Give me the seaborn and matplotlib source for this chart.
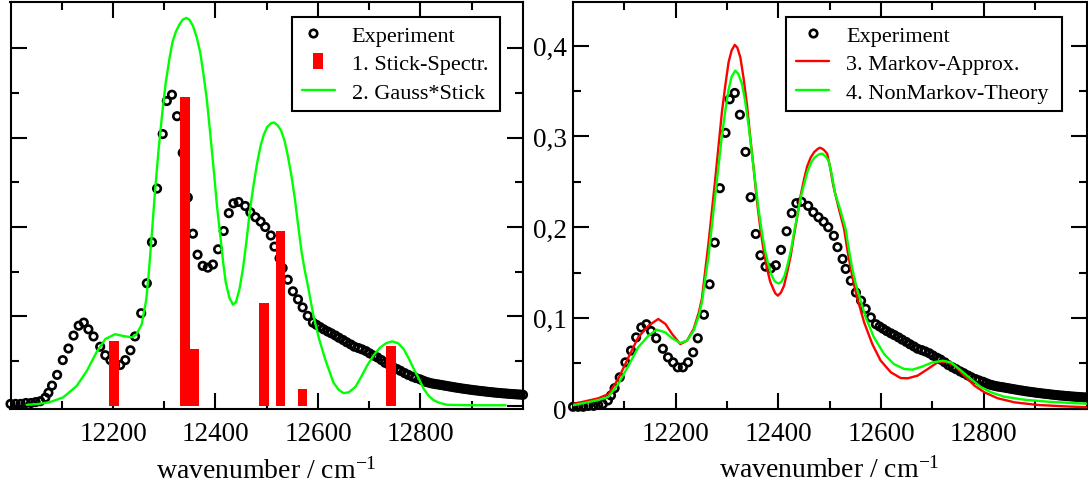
import matplotlib
matplotlib.use("Agg")
import matplotlib.pyplot as plt
import seaborn as sns
from matplotlib.lines import Line2D
from matplotlib.ticker import FixedLocator, FixedFormatter, NullFormatter
from matplotlib.legend_handler import HandlerLine2D

# ---------------- data ----------------
# measured absorption spectrum (wavenumber in cm^-1, absorbance)
exp_wn = [12000, 12010, 12020, 12030, 12040, 12049, 12058, 12068, 12074, 12081,
          12091, 12102, 12113, 12123, 12133, 12143, 12152, 12162, 12175, 12185,
          12195, 12204, 12214, 12224, 12234, 12243, 12255, 12266, 12276, 12286,
          12297, 12305, 12315, 12325, 12336, 12346, 12356, 12365, 12375, 12385,
          12395, 12405, 12416, 12426, 12435, 12445, 12458, 12468, 12478, 12488,
          12497, 12508, 12515, 12525, 12531, 12541, 12551, 12561, 12570, 12580,
          12590, 12597, 12604, 12611, 12619, 12626, 12634, 12641, 12649, 12656,
          12664, 12671, 12679, 12686, 12694, 12701, 12709, 12716, 12724, 12731,
          12739, 12746, 12754, 12761, 12769, 12776, 12784, 12791, 12799, 12805,
          12810, 12815, 12820, 12825, 12830, 12835, 12840, 12845, 12850, 12855,
          12860, 12865, 12870, 12875, 12880, 12885, 12890, 12895, 12900, 12905,
          12910, 12915, 12920, 12925, 12930, 12935, 12940, 12945, 12950, 12955,
          12960, 12965, 12970, 12975, 12980, 12985, 12990, 12995, 13000]
exp_abs = [0.002, 0.002, 0.002, 0.003, 0.003, 0.004, 0.005, 0.009, 0.0145, 0.0225,
           0.0345, 0.051, 0.064, 0.0785, 0.0895, 0.093, 0.0855, 0.0775, 0.066, 0.0565,
           0.051, 0.0455, 0.0455, 0.051, 0.062, 0.0775, 0.1035, 0.137, 0.183, 0.243,
           0.304, 0.341, 0.348, 0.324, 0.283, 0.233, 0.1925, 0.169, 0.1565, 0.1545,
           0.158, 0.175, 0.1955, 0.2155, 0.2265, 0.228, 0.2235, 0.2165, 0.211, 0.206,
           0.200, 0.1905, 0.178, 0.165, 0.154, 0.141, 0.128, 0.119, 0.110, 0.1005,
           0.093, 0.0905, 0.088, 0.0855, 0.083, 0.081, 0.0785, 0.076, 0.0735, 0.071,
           0.0685, 0.066, 0.0645, 0.063, 0.061, 0.0585, 0.056, 0.054, 0.051, 0.048,
           0.0455, 0.0435, 0.041, 0.039, 0.0365, 0.0345, 0.0325, 0.031, 0.0295, 0.028,
           0.0268, 0.026, 0.0252, 0.0246, 0.0241, 0.0237, 0.0232, 0.0227, 0.0222, 0.0217,
           0.0212, 0.0207, 0.0202, 0.0198, 0.0193, 0.0189, 0.0185, 0.0181, 0.0177, 0.0173,
           0.017, 0.0166, 0.0163, 0.016, 0.0156, 0.0153, 0.015, 0.0147, 0.0144, 0.0142,
           0.0139, 0.0137, 0.0134, 0.0132, 0.013, 0.0128, 0.0126, 0.0124, 0.0122]

# 1. stick spectrum
stick_wn = [12202, 12340, 12359, 12494, 12527, 12570, 12742]
stick_int = [0.0728, 0.345, 0.0634, 0.1146, 0.196, 0.0187, 0.067]

# 2. Gaussian-broadened stick spectrum
gauss_wn = [12032, 12055, 12077, 12103, 12129, 12149, 12168, 12185, 12204, 12220,
            12237, 12246, 12256, 12265, 12270, 12276, 12282, 12289, 12296, 12303,
            12310, 12316, 12323, 12330, 12336, 12343, 12349, 12356, 12363, 12370,
            12376, 12383, 12390, 12397, 12403, 12410, 12415, 12420, 12427, 12434,
            12440, 12447, 12454, 12461, 12467, 12474, 12481, 12488, 12494, 12501,
            12508, 12514, 12521, 12528, 12535, 12541, 12548, 12555, 12561, 12568,
            12574, 12580, 12591, 12602, 12614, 12630, 12640, 12650, 12660, 12673,
            12684, 12696, 12708, 12721, 12733, 12745, 12756, 12767, 12777, 12787,
            12797, 12806, 12816, 12826, 12838, 12852, 12900, 12966]
gauss_int = [0.001, 0.002, 0.004, 0.0094, 0.022, 0.039, 0.060, 0.0746, 0.080, 0.078,
             0.0765, 0.080, 0.091, 0.119, 0.150, 0.194, 0.240, 0.287, 0.327, 0.362,
             0.388, 0.407, 0.419, 0.427, 0.432, 0.434, 0.432, 0.425, 0.413, 0.396,
             0.373, 0.343, 0.303, 0.261, 0.223, 0.187, 0.160, 0.138, 0.121, 0.113,
             0.116, 0.131, 0.155, 0.187, 0.218, 0.246, 0.271, 0.291, 0.303, 0.312,
             0.316, 0.317, 0.314, 0.308, 0.296, 0.280, 0.258, 0.231, 0.203, 0.172,
             0.152, 0.135, 0.101, 0.075, 0.052, 0.026, 0.018, 0.014, 0.015, 0.021,
             0.032, 0.045, 0.056, 0.065, 0.070, 0.072, 0.070, 0.0635, 0.053, 0.041,
             0.030, 0.019, 0.011, 0.006, 0.003, 0.001, 0.0005, 0.0005]

# 3. Markov approximation
markov_wn = [12000, 12049, 12069, 12088, 12108, 12127, 12147, 12166, 12180, 12193,
             12209, 12222, 12235, 12245, 12251, 12264, 12277, 12290, 12297, 12303,
             12309, 12315, 12320, 12326, 12332, 12339, 12345, 12352, 12358, 12365,
             12371, 12378, 12384, 12390, 12394, 12399, 12405, 12411, 12417, 12424,
             12430, 12437, 12443, 12450, 12456, 12463, 12470, 12476, 12480, 12484,
             12489, 12495, 12501, 12507, 12517, 12528, 12534, 12541, 12547, 12554,
             12567, 12583, 12599, 12619, 12638, 12652, 12671, 12691, 12710, 12726,
             12743, 12762, 12782, 12801, 12827, 12860, 12905, 12957, 13000]
markov_int = [0.005, 0.0113, 0.016, 0.0326, 0.0565, 0.0786, 0.0914, 0.0988, 0.0933, 0.0822,
              0.0712, 0.0749, 0.0878, 0.106, 0.121, 0.183, 0.253, 0.327, 0.358, 0.382,
              0.395, 0.401, 0.398, 0.387, 0.365, 0.334, 0.300, 0.264, 0.230, 0.198,
              0.175, 0.154, 0.140, 0.132, 0.127, 0.1245, 0.128, 0.1355, 0.150, 0.1686,
              0.190, 0.2127, 0.234, 0.253, 0.267, 0.277, 0.283, 0.286, 0.2875, 0.287,
              0.285, 0.281, 0.265, 0.2456, 0.222, 0.198, 0.176, 0.154, 0.137, 0.121,
              0.095, 0.071, 0.053, 0.040, 0.0337, 0.0334, 0.0363, 0.0437, 0.051, 0.0517,
              0.0473, 0.0363, 0.0252, 0.018, 0.0114, 0.0069, 0.004, 0.0025, 0.0015]

# 4. non-Markovian theory
nonmarkov_wn = [12000, 12049, 12069, 12088, 12108, 12127, 12147, 12163, 12180, 12193,
                12209, 12222, 12235, 12245, 12251, 12264, 12277, 12290, 12297, 12303,
                12309, 12316, 12322, 12329, 12335, 12342, 12348, 12355, 12361, 12368,
                12374, 12381, 12386, 12392, 12396, 12401, 12406, 12412, 12418, 12425,
                12431, 12438, 12444, 12451, 12457, 12464, 12470, 12477, 12481, 12486,
                12492, 12498, 12504, 12510, 12520, 12531, 12537, 12544, 12550, 12557,
                12570, 12586, 12606, 12625, 12645, 12661, 12681, 12700, 12720, 12736,
                12756, 12775, 12795, 12814, 12840, 12879, 12925, 12970, 13000]
nonmarkov_int = [0.0037, 0.0093, 0.013, 0.027, 0.0474, 0.0676, 0.0804, 0.087, 0.084, 0.0775,
                 0.0723, 0.0749, 0.086, 0.1024, 0.117, 0.1686, 0.235, 0.301, 0.330, 0.352,
                 0.366, 0.3726, 0.369, 0.358, 0.340, 0.312, 0.283, 0.2495, 0.221, 0.194,
                 0.174, 0.1576, 0.148, 0.141, 0.139, 0.138, 0.140, 0.1465, 0.159, 0.176,
                 0.196, 0.2164, 0.234, 0.2495, 0.262, 0.2716, 0.2765, 0.2796, 0.2808, 0.281,
                 0.278, 0.273, 0.258, 0.238, 0.220, 0.198, 0.176, 0.154, 0.139, 0.1245,
                 0.1007, 0.0786, 0.060, 0.049, 0.0437, 0.0429, 0.0466, 0.051, 0.0528, 0.051,
                 0.0418, 0.0326, 0.0235, 0.018, 0.0131, 0.0098, 0.0076, 0.0062, 0.0054]

x_major = [12200, 12400, 12600, 12800]
x_minor = [12100, 12300, 12500, 12700, 12900]
x_labels = ["12200", "12400", "12600", "12800"]
y_major = [0.0, 0.1, 0.2, 0.3, 0.4]
y_minor = [0.05, 0.15, 0.25, 0.35]
y_labels = ["0", "0,1", "0,2", "0,3", "0,4"]

legend_left = ["Experiment", "1. Stick-Spectr.", "2. Gauss*Stick"]
legend_right = ["Experiment", "3. Markov-Approx.", "4. NonMarkov-Theory"]

RED = "#ff0000"
GREEN = "#00ff00"

# ---------------- style ----------------
sns.set_theme(style="ticks")
plt.rcParams["font.family"] = ["Liberation Serif", "DejaVu Serif"]
plt.rcParams["mathtext.fontset"] = "custom"
plt.rcParams["mathtext.rm"] = "Liberation Serif"
plt.rcParams["mathtext.it"] = "Liberation Serif:italic"
plt.rcParams["mathtext.bf"] = "Liberation Serif:bold"
plt.rcParams["axes.facecolor"] = "white"
plt.rcParams["figure.facecolor"] = "white"

W, H = 1088, 485
fig = plt.figure(figsize=(W / 100, H / 100), dpi=100)
ax1 = fig.add_axes([10.5 / W, (H - 410) / H, 512.5 / W, 407 / H])
ax2 = fig.add_axes([573 / W, (H - 409.6) / H, 513.5 / W, 406.9 / H])

MS = 5.4      # marker size (pt)
MEW = 1.9     # marker edge width (pt)
LW = 1.7      # line width (pt)


def experiment(ax):
    sns.scatterplot(x=exp_wn, y=exp_abs, ax=ax, marker="o", s=MS ** 2,
                    facecolors="none", edgecolor="black", linewidth=MEW,
                    clip_on=False, zorder=2, legend=False)


def style_axes(ax, ylim, show_ylabels):
    ax.set_xlim(12000, 13000)
    ax.set_ylim(*ylim)
    ax.xaxis.set_major_locator(FixedLocator(x_major))
    ax.xaxis.set_minor_locator(FixedLocator(x_minor))
    ax.xaxis.set_major_formatter(FixedFormatter(x_labels))
    ax.yaxis.set_major_locator(FixedLocator(y_major))
    ax.yaxis.set_minor_locator(FixedLocator(y_minor))
    if show_ylabels:
        ax.yaxis.set_major_formatter(FixedFormatter(y_labels))
    else:
        ax.yaxis.set_major_formatter(NullFormatter())
    ax.tick_params(which="both", direction="in", top=True, right=True,
                   bottom=True, left=True, width=1.5, color="black",
                   labelcolor="black")
    ax.tick_params(which="major", length=11.5)
    ax.tick_params(which="minor", length=5.8)
    ax.tick_params(axis="x", which="major", labelsize=19.5, pad=9)
    ax.tick_params(axis="y", which="major", labelsize=19.5, pad=4.5,
                   labelleft=show_ylabels)
    for sp in ax.spines.values():
        sp.set_visible(True)
        sp.set_linewidth(1.5)
        sp.set_color("black")
    ax.set_xlabel(r"wavenumber / cm$^{-1}$", fontsize=20, labelpad=7.5,
                  color="black")
    ax.set_ylabel("")


# ---------------- left panel ----------------
experiment(ax1)
ax1.bar(stick_wn, stick_int, width=19, color=RED, linewidth=0, zorder=3)
sns.lineplot(x=gauss_wn, y=gauss_int, ax=ax1, color=GREEN, linewidth=LW,
             sort=False, estimator=None, zorder=4)
style_axes(ax1, (-0.0037, 0.4518), False)

# ---------------- right panel ----------------
experiment(ax2)
sns.lineplot(x=markov_wn, y=markov_int, ax=ax2, color=RED, linewidth=LW,
             sort=False, estimator=None, zorder=3)
sns.lineplot(x=nonmarkov_wn, y=nonmarkov_int, ax=ax2, color=GREEN,
             linewidth=LW, sort=False, estimator=None, zorder=4)
style_axes(ax2, (0.0, 0.4486), True)

# ---------------- legends ----------------
def exp_handle():
    return Line2D([], [], linestyle="none", marker="o", markersize=MS,
                  markerfacecolor="none", markeredgecolor="black",
                  markeredgewidth=MEW)


bar_marker = [(-0.63, -1), (0.63, -1), (0.63, 1), (-0.63, 1), (-0.63, -1)]


def make_legend(ax, handles, labels, frame_px, circle_xpad):
    x0, y0, x1, y1 = frame_px
    hmap = {Line2D: HandlerLine2D(xpad=0.11),
            handles[0]: HandlerLine2D(xpad=circle_xpad)}
    leg = ax.legend(handles, labels, loc="upper left",
                    bbox_to_anchor=(x0 / W, 1 - y1 / H, (x1 - x0) / W, (y1 - y0) / H),
                    bbox_transform=fig.transFigure, mode="expand",
                    borderaxespad=0, borderpad=0.35, fontsize=16,
                    handlelength=1.6, handletextpad=0.75, labelspacing=0.36,
                    frameon=True, fancybox=False, shadow=False, framealpha=1,
                    edgecolor="black", handler_map=hmap)
    leg.get_frame().set_linewidth(1.5)
    leg.set_zorder(10)
    for t in leg.get_texts():
        t.set_color("black")
    return leg


h_exp1 = exp_handle()
h_stick = Line2D([], [], linestyle="none", marker=bar_marker, markersize=12.2,
                 color=RED, markeredgewidth=0)
h_gauss = Line2D([], [], color=GREEN, linewidth=LW)
make_legend(ax1, [h_exp1, h_stick, h_gauss], legend_left,
            (291.7, 18.3, 500, 108.3), -0.39)

h_exp2 = exp_handle()
h_markov = Line2D([], [], color=RED, linewidth=LW)
h_nonmarkov = Line2D([], [], color=GREEN, linewidth=LW)
make_legend(ax2, [h_exp2, h_markov, h_nonmarkov], legend_right,
            (786, 18.3, 1062, 112.7), 0.11)

fig.savefig("out.png", dpi=100, facecolor="white")
